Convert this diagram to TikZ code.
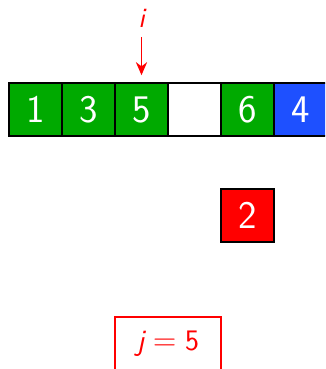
\documentclass[tikz,border=0pt]{standalone}
\usetikzlibrary{arrows.meta}
\definecolor{cgreen}{RGB}{0,170,0}
\definecolor{cblue}{RGB}{30,80,255}
\definecolor{cred}{RGB}{255,0,0}
\tikzset{
  cell/.style={draw=black, line width=1pt, minimum size=1cm, inner sep=0pt,
    text=white, font=\sffamily\fontsize{21}{25}\selectfont},
  ptr/.style={text=cred, font=\sffamily\itshape\fontsize{15}{18}\selectfont, inner sep=1pt},
  ptrarrow/.style={draw=cred, line width=1pt, -{Stealth[length=7pt,width=6pt]}},
  jbox/.style={draw=cred, line width=0.7pt, minimum width=2cm, minimum height=1cm,
    text=cred, font=\sffamily\fontsize{16}{19}\selectfont}
}
\begin{document}
\begin{tikzpicture}[x=0.018868cm, y=-0.018868cm]
\clip (0,0) rectangle (325,369);
\node[cell, fill=cgreen] (c1) at (35.5,109.5) {1};
\node[cell, fill=cgreen] (c2) at (88.5,109.5) {3};
\node[cell, fill=cgreen] (c3) at (141.5,109.5) {5};
\node[cell, fill=white] (c4) at (194.5,109.5) {};
\node[cell, fill=cgreen] (c5) at (247.5,109.5) {6};
\node[cell, fill=cblue] (c6) at (300.5,109.5) {4};
\node[cell, fill=cred] (key) at (247.5,215.5) {2};
\node[ptr] (i) at (141.5,18) {i};
\draw[ptrarrow, shorten <=4pt, shorten >=3.7pt] (i) -- (c3.north);
\node[jbox] (j) at (168,343.5) {$\textit{j} = \textup{5}$};
\end{tikzpicture}
\end{document}
